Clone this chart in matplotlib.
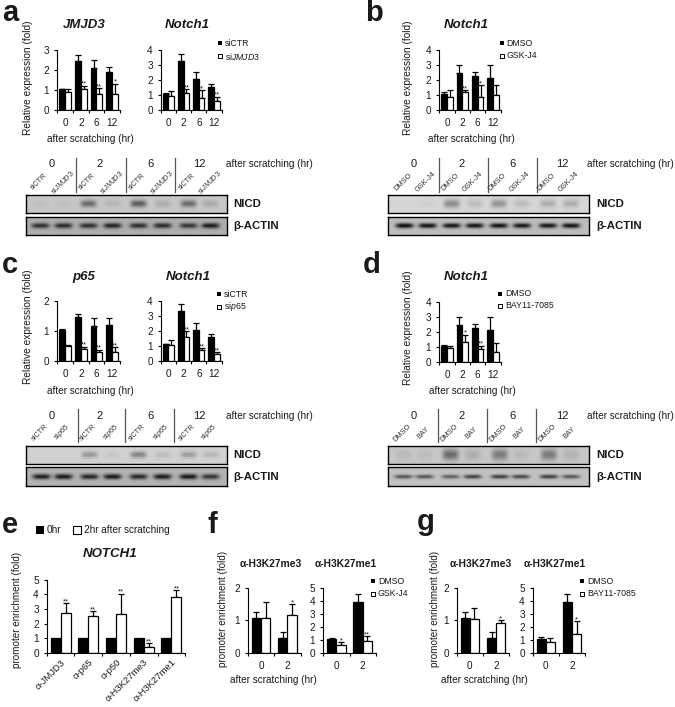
import numpy as np
import matplotlib
matplotlib.use('Agg')
import matplotlib.pyplot as plt

W, H = 675, 707
INK = '#1a1a1a'

plt.rcParams['font.family'] = ['Liberation Sans', 'DejaVu Sans']
plt.rcParams['mathtext.fontset'] = 'custom'
plt.rcParams['mathtext.it'] = 'Liberation Sans:italic'
plt.rcParams['mathtext.rm'] = 'Liberation Sans'

hours = ['0', '2', '6', '12']
hours_short = ['0', '2']
targets = ['α-JMJD3', 'α-p65', 'α-p50', 'α-H3K27me3', 'α-H3K27me1']

# bar heights and top of error bar
a1_ctr = [1.05, 2.45, 2.12, 1.92]
a1_ctr_top = [1.07, 2.77, 2.50, 2.15]
a1_si = [0.88, 1.05, 0.78, 0.80]
a1_si_top = [1.05, 1.22, 1.10, 1.32]
a1_stars = ['', '**', '**', '*']

a2_ctr = [1.10, 3.30, 2.05, 1.55]
a2_ctr_top = [1.13, 3.75, 2.52, 1.75]
a2_si = [0.92, 1.15, 0.80, 0.58]
a2_si_top = [1.25, 1.40, 1.32, 0.90]
a2_stars = ['', '**', '*', '**']

b_dmso = [1.05, 2.47, 2.25, 2.12]
b_dmso_top = [1.20, 3.00, 2.52, 3.00]
b_gsk = [0.87, 1.20, 0.87, 1.03]
b_gsk_top = [1.33, 1.33, 1.67, 1.70]
b_stars = ['', '**', '*', '']

c1_ctr = [1.03, 1.45, 1.15, 1.20]
c1_ctr_top = [1.05, 1.55, 1.42, 1.42]
c1_si = [0.50, 0.38, 0.30, 0.30]
c1_si_top = [0.52, 0.47, 0.37, 0.45]
c1_stars = ['', '**', '**', '**']

c2_ctr = [1.10, 3.30, 2.05, 1.55]
c2_ctr_top = [1.13, 3.75, 2.52, 1.75]
c2_si = [1.07, 1.55, 0.70, 0.42]
c2_si_top = [1.37, 1.95, 0.85, 0.58]
c2_stars = ['', '**', '**', '**']

d_dmso = [1.05, 2.47, 2.25, 2.12]
d_dmso_top = [1.12, 3.00, 2.52, 3.00]
d_bay = [0.90, 1.35, 0.85, 0.62]
d_bay_top = [1.03, 1.82, 1.08, 1.22]
d_stars = ['', '*', '**', '']

e_0hr = [1, 1, 1, 1, 1]
e_2hr = [2.75, 2.55, 2.65, 0.42, 3.85]
e_2hr_top = [3.40, 2.85, 4.05, 0.68, 4.30]
e_stars = ['**', '**', '**', '**', '**']

f1_dmso = [1.07, 0.45]
f1_dmso_top = [1.25, 0.63]
f1_gsk = [1.08, 1.15]
f1_gsk_top = [1.57, 1.50]
f1_stars = ['', '*']

f2_dmso = [1.10, 3.90]
f2_dmso_top = [1.15, 4.50]
f2_gsk = [0.58, 0.92]
f2_gsk_top = [0.82, 1.30]
f2_stars = ['*', '**']

g1_dmso = [1.07, 0.45]
g1_dmso_top = [1.25, 0.63]
g1_bay = [1.04, 0.92]
g1_bay_top = [1.38, 1.00]
g1_stars = ['', '*']

g2_dmso = [1.10, 3.90]
g2_dmso_top = [1.20, 4.50]
g2_bay = [0.87, 1.42]
g2_bay_top = [1.13, 2.45]
g2_stars = ['', '*']

# blot band darkness per lane
a_nicd = [0.03, 0.03, 0.36, 0.07, 0.42, 0.10, 0.36, 0.12]
a_actin = [0.50, 0.52, 0.50, 0.55, 0.50, 0.52, 0.48, 0.58]
b_nicd = [0.00, 0.03, 0.30, 0.10, 0.26, 0.10, 0.16, 0.16]
b_actin = [0.70, 0.68, 0.66, 0.66, 0.68, 0.66, 0.66, 0.68]
c_nicd = [0.00, 0.00, 0.22, 0.04, 0.30, 0.08, 0.20, 0.10]
c_actin = [0.58, 0.60, 0.56, 0.60, 0.55, 0.60, 0.62, 0.50]
d_nicd = [0.05, 0.04, 0.36, 0.10, 0.30, 0.05, 0.30, 0.08]
d_actin = [0.42, 0.42, 0.38, 0.50, 0.52, 0.48, 0.52, 0.42]

a_lanes = ['siCTR', 'si$\\mathit{JMJD3}$'] * 4
b_lanes = ['DMSO', 'GSK-J4'] * 4
c_lanes = ['siCTR', 'si$\\mathit{p65}$'] * 4
d_lanes = ['DMSO', 'BAY'] * 4

fig = plt.figure(figsize=(W / 100, H / 100), dpi=100)
# overlay in pixel coordinates for the free text
page = fig.add_axes([0, 0, 1, 1], zorder=5)
page.set_xlim(0, W)
page.set_ylim(H, 0)
page.axis('off')
page.patch.set_alpha(0)


def px_axes(x0, x1, ytop, ybot):
    return fig.add_axes([x0 / W, 1 - ybot / H, (x1 - x0) / W, (ybot - ytop) / H])


def bars(box, ymax, vals1, top1, vals2, top2, labels, stars, yticks, width=0.37):
    ax = px_axes(*box)
    x = np.arange(len(labels)) + 0.5
    v1, v2 = np.array(vals1, float), np.array(vals2, float)
    for xs, v, t, color in [(x - width / 2, v1, top1, 'black'), (x + width / 2, v2, top2, 'white')]:
        if t is not None:
            up = np.array(t) - v
            ax.errorbar(xs, v, yerr=[np.zeros_like(up), up], fmt='none', ecolor='black',
                        elinewidth=0.9, capsize=2.4, capthick=0.9, zorder=1)
        ax.bar(xs, v, width=width, color=color, edgecolor='black', linewidth=0.9, zorder=2)
    for xs, t, s in zip(x + width / 2, top2, stars):
        if s:
            ax.annotate(s, (xs, t), xytext=(0, -1.5), textcoords='offset points', ha='center',
                        va='bottom', fontsize=5.5, color=INK, annotation_clip=False)
    ax.set_xlim(0, len(labels))
    ax.set_ylim(0, ymax)
    ax.set_yticks(yticks)
    ax.set_xticks(x, labels)
    ax.set_xticks(np.arange(len(labels) + 1), minor=True)
    ax.tick_params(axis='x', which='major', length=0, pad=6, labelsize=7.2, labelcolor=INK)
    ax.tick_params(axis='x', which='minor', length=2.2, width=0.8, direction='out')
    ax.tick_params(axis='y', length=2.2, width=0.8, pad=3.5, labelsize=7.2, labelcolor=INK)
    for side in ['top', 'right']:
        ax.spines[side].set_visible(False)
    for side in ['left', 'bottom']:
        ax.spines[side].set_linewidth(0.8)
    ax.patch.set_alpha(0)
    return ax


def blot(box, darkness, bg, centers, sigma_y, half_w):
    x0, x1, y0, y1 = box
    xx, yy = np.meshgrid(np.arange(x0, x1, 0.5), np.arange(y0, y1, 0.5))
    img = np.full(xx.shape, bg, float)
    ymid = (y0 + y1) / 2
    for c, d in zip(centers, darkness):
        img -= d * np.exp(-((xx - c) / half_w) ** 4) * np.exp(-((yy - ymid) / sigma_y) ** 2)
    ax = px_axes(x0, x1, y0, y1)
    ax.imshow(np.clip(img, 0, 1), cmap='gray', vmin=0, vmax=1, aspect='auto',
              interpolation='bilinear')
    ax.set_xticks([])
    ax.set_yticks([])
    for s in ax.spines.values():
        s.set_linewidth(1.0)


def western(x0, x1, ytop, nicd, actin, nicd_bg, actin_bg, centers, lanes, dividers, times_x,
            time_y, after_x, nicd_sigma, actin_sigma):
    blot((x0, x1, ytop, ytop + 18.3), nicd, nicd_bg, centers, nicd_sigma, 8)
    blot((x0, x1, ytop + 21.7, ytop + 40), actin, actin_bg, centers, actin_sigma, 9)
    page.text(x1 + 7, ytop + 9.2, 'NICD', fontsize=8.2, fontweight='bold', va='center', color=INK)
    page.text(x1 + 7, ytop + 30.8, 'β-ACTIN', fontsize=8.2, fontweight='bold', va='center', color=INK)
    for lx, name in zip(centers, lanes):
        page.text(lx - 1, ytop - 13, name, fontsize=5.3, rotation=45, ha='center', va='center',
                  color='#333333', rotation_mode='anchor')
    for dx in dividers:
        page.plot([dx, dx], [ytop - 36.7, ytop - 3.3], color='#555555', lw=0.9)
    for tx, t in zip(times_x, hours):
        page.text(tx, time_y, t, fontsize=8, ha='center', va='center', color=INK)
    page.text(after_x, time_y, 'after scratching (hr)', fontsize=7.2, va='center', color=INK)


def legend(mx, tx, y1, y2, name1, name2):
    page.scatter([mx], [y1], s=12, marker='s', color='black', linewidths=0)
    page.scatter([mx], [y2], s=9, marker='s', facecolor='white', edgecolor='black', linewidths=0.7)
    page.text(tx, y1, name1, fontsize=6.3, va='center', color=INK)
    page.text(tx, y2, name2, fontsize=6.3, va='center', color=INK)


def title(x, y, s, style='italic', size=9.5):
    page.text(x, y, s, fontsize=size, fontweight='bold', fontstyle=style, ha='center', va='center',
              color=INK)


def ylab(x, y, s, size=7.3):
    page.text(x, y, s, fontsize=size, rotation=90, ha='center', va='center', color=INK)


def xlab(x, y):
    page.text(x, y, 'after scratching (hr)', fontsize=7.2, ha='center', va='center', color=INK)


# bar charts
bars((57.3, 120, 50, 110), 3, a1_ctr, a1_ctr_top, a1_si, a1_si_top, hours, a1_stars, [0, 1, 2, 3])
bars((160.7, 221.7, 50, 110), 4, a2_ctr, a2_ctr_top, a2_si, a2_si_top, hours, a2_stars, [0, 1, 2, 3, 4])
bars((439.3, 500.7, 50, 110), 4, b_dmso, b_dmso_top, b_gsk, b_gsk_top, hours, b_stars, [0, 1, 2, 3, 4])
bars((57.3, 120, 300.7, 360.7), 2, c1_ctr, c1_ctr_top, c1_si, c1_si_top, hours, c1_stars, [0, 1, 2])
bars((160.7, 221.7, 300.7, 360.7), 4, c2_ctr, c2_ctr_top, c2_si, c2_si_top, hours, c2_stars, [0, 1, 2, 3, 4])
bars((439.3, 500.7, 302, 361.7), 4, d_dmso, d_dmso_top, d_bay, d_bay_top, hours, d_stars, [0, 1, 2, 3, 4])

ax_e = bars((46.7, 185.3, 579.7, 653), 5, e_0hr, None, e_2hr, e_2hr_top, targets, e_stars,
            [0, 1, 2, 3, 4, 5], width=0.36)
ax_e.set_xticklabels(targets, rotation=45, ha='right', rotation_mode='anchor', fontsize=6.8)
ax_e.tick_params(axis='x', which='major', pad=3.5)

bars((247.7, 300.7, 587.7, 653), 2, f1_dmso, f1_dmso_top, f1_gsk, f1_gsk_top, hours_short, f1_stars, [0, 1, 2], width=0.35)
bars((323.3, 375.7, 587.7, 653), 5, f2_dmso, f2_dmso_top, f2_gsk, f2_gsk_top, hours_short, f2_stars, [0, 1, 2, 3, 4, 5], width=0.35)
bars((456.7, 509.3, 587.7, 653), 2, g1_dmso, g1_dmso_top, g1_bay, g1_bay_top, hours_short, g1_stars, [0, 1, 2], width=0.35)
bars((532.7, 585, 587.7, 653), 5, g2_dmso, g2_dmso_top, g2_bay, g2_bay_top, hours_short, g2_stars, [0, 1, 2, 3, 4, 5], width=0.35)

# blots
western(25.7, 226.7, 195, a_nicd, a_actin, 0.78, 0.68,
        [40, 63, 88, 112, 138, 162, 188, 210], a_lanes, [76, 126.3, 175.3],
        [51.7, 100, 150, 199], 164, 226, 3.5, 2.6)
western(387.7, 589, 195, b_nicd, b_actin, 0.84, 0.74,
        [404, 427, 451, 474, 498, 521, 547, 570], b_lanes, [439.3, 488.3, 536.7],
        [413.7, 462, 512, 562], 164, 587, 4.0, 2.4)
western(25.7, 226.7, 445.7, c_nicd, c_actin, 0.82, 0.70,
        [41, 63, 89, 112, 138, 162, 188, 210], c_lanes, [77.7, 125.3, 174.3],
        [51.7, 100, 150, 199], 415.7, 226, 3.2, 2.6)
western(387.7, 589, 445.7, d_nicd, d_actin, 0.78, 0.76,
        [403, 424, 450, 472, 499, 520, 548, 570], d_lanes, [438.3, 487, 536],
        [414, 462, 512, 562], 415.7, 587, 5.5, 2.0)

# titles
title(84, 25, 'JMJD3')
title(187.7, 25, 'Notch1')
title(466.7, 25, 'Notch1')
title(84, 276.7, 'p65')
title(188, 276.7, 'Notch1')
title(466.7, 277, 'Notch1')
title(110, 554, 'NOTCH1')
title(271, 564, 'α-H3K27me3', 'normal', 7.4)
title(345.7, 564, 'α-H3K27me1', 'normal', 7.4)
title(480.7, 564, 'α-H3K27me3', 'normal', 7.4)
title(555, 564, 'α-H3K27me1', 'normal', 7.4)

# axis labels
ylab(28, 77.5, 'Relative expression (fold)')
ylab(408, 77.5, 'Relative expression (fold)')
ylab(28, 327, 'Relative expression (fold)')
ylab(408, 328, 'Relative expression (fold)')
ylab(16.7, 610, 'promoter enrichment (fold)', 7.1)
ylab(223, 609, 'promoter enrichment (fold)', 7.1)
ylab(435, 609, 'promoter enrichment (fold)', 7.1)
xlab(90, 139)
xlab(471.7, 139)
xlab(90, 391)
xlab(472.7, 391)
xlab(273, 680)
xlab(484, 680)

# legends
legend(220, 225, 43.3, 56, 'siCTR', 'si$\\mathit{JMJD3}$')
legend(501.7, 506.7, 43.3, 56, 'DMSO', 'GSK-J4')
legend(219.3, 224, 294.3, 306.7, 'siCTR', 'si$\\mathit{p65}$')
legend(500, 505, 293.7, 306, 'DMSO', 'BAY11-7085')
legend(373.3, 378, 581, 593.7, 'DMSO', 'GSK-J4')
legend(582.3, 587, 581, 593.7, 'DMSO', 'BAY11-7085')

page.scatter([40], [530], s=36, marker='s', color='black', linewidths=0)
page.scatter([77.3], [530], s=30, marker='s', facecolor='white', edgecolor='black', linewidths=0.8)
page.text(46.3, 530, '0hr', fontsize=7.2, va='center', color=INK)
page.text(84, 530, '2hr after scratching', fontsize=7.2, va='center', color=INK)

# panel letters
for lx, ly, letter in [(2, 21, 'a'), (365, 21, 'b'), (2, 272.7, 'c'), (362.7, 273, 'd'),
                       (2, 533, 'e'), (208, 533, 'f'), (417, 530, 'g')]:
    page.text(lx, ly, letter, fontsize=21, fontweight='bold', va='baseline', color=INK)

page.set_xlim(0, W)
page.set_ylim(H, 0)
fig.savefig('out.png', dpi=100)
